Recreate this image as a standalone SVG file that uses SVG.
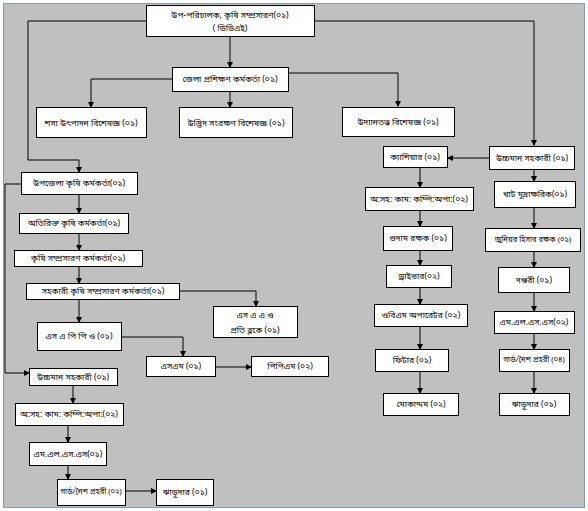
<svg xmlns="http://www.w3.org/2000/svg" width="588" height="511" viewBox="0 0 588 511">
<defs>
<marker id="ar" markerWidth="6" markerHeight="6" refX="5" refY="3" orient="auto" markerUnits="userSpaceOnUse">
<path d="M0,0 L6,3 L0,6 Z" fill="#000"/>
</marker>
<style>
.b{fill:#fff;stroke:#000;stroke-width:1}
.t{font-family:"Noto Sans Bengali","Noto Sans","Noto Sans CJK SC",sans-serif;font-size:8.5px;fill:#000;text-anchor:middle;dominant-baseline:central}
.s{font-size:7.6px}
.c{fill:none;stroke:#000;stroke-width:1}
.ca{fill:none;stroke:#000;stroke-width:1;marker-end:url(#ar)}
</style>
</defs>
<rect x="0" y="0" width="588" height="511" fill="#fff"/>
<rect x="3.5" y="3.5" width="581" height="504" fill="#c0c0c0" stroke="#7f9db9" stroke-width="1"/>
<g id="connectors">
<path class="c" d="M146,21 H28 V160 H79"/>
<path class="ca" d="M79,160 V172"/>
<path class="ca" d="M315,21 H534 V145"/>
<path class="ca" d="M230,36 V67"/>
<path class="ca" d="M172,79 H91 V107"/>
<path class="ca" d="M230,91 V107"/>
<path class="ca" d="M288,73 H398 V106"/>
<path class="ca" d="M489,158 H448"/>
<path class="ca" d="M534,169 V181"/>
<path class="ca" d="M534,207 V228"/>
<path class="ca" d="M534,251 V267"/>
<path class="ca" d="M534,292 V311"/>
<path class="ca" d="M534,333 V349"/>
<path class="ca" d="M534,371 V393"/>
<path class="ca" d="M420,167 V187"/>
<path class="ca" d="M420,210 V226"/>
<path class="ca" d="M420,250 V265"/>
<path class="ca" d="M420,287 V304"/>
<path class="ca" d="M420,326 V349"/>
<path class="ca" d="M420,371 V393"/>
<path class="ca" d="M79,194 V213"/>
<path class="ca" d="M79,233 V250"/>
<path class="ca" d="M79,266 V283"/>
<path class="ca" d="M179,291 H256 V306"/>
<path class="ca" d="M79,299 V322"/>
<path class="ca" d="M121,337 H183 V356"/>
<path class="ca" d="M215,367 H251"/>
<path class="ca" d="M21,184 H5 V373 H29"/>
<path class="ca" d="M73,385 V403"/>
<path class="ca" d="M68,425 V442"/>
<path class="ca" d="M68,465 V479"/>
<path class="ca" d="M125,491 H156"/>
</g>
<g id="n1"><rect class="b" x="146.5" y="5.5" width="168" height="31"/><text class="t" x="230" y="15">উপ-পরিচালক, কৃষি সম্প্রসারণ(০১)</text><text class="t" x="230" y="28">( ডিডিএই)</text></g>
<g id="n2"><rect class="b" x="172.5" y="67.5" width="116" height="24"/><text class="t" x="230" y="79">জেলা প্রশিক্ষণ কর্মকর্তা (০১)</text></g>
<g id="n3"><rect class="b" x="36.5" y="107.5" width="110" height="30"/><text class="t" x="91" y="123">শস্য উৎপাদন বিশেষজ্ঞ (০১)</text></g>
<g id="n4"><rect class="b" x="179.5" y="107.5" width="113" height="30"/><text class="t" x="236" y="123">উদ্ভিদ সংরক্ষণ বিশেষজ্ঞ  (০১)</text></g>
<g id="n5"><rect class="b" x="342.5" y="107.5" width="112" height="29"/><text class="t" x="398" y="122">উদ্যানতত্ত্ব বিশেষজ্ঞ (০১)</text></g>
<g id="n6"><rect class="b" x="489.5" y="146.5" width="85" height="23"/><text class="t" x="532" y="158">উচ্চমান সহকারী  (০১)</text></g>
<g id="n7"><rect class="b" x="383.5" y="146.5" width="64" height="21"/><text class="t" x="415" y="157">ক্যাশিয়ার (০১)</text></g>
<g id="n8"><rect class="b" x="494.5" y="181.5" width="81" height="26"/><text class="t" x="535" y="194">খাট মুদ্রাক্ষরিক(০১)</text></g>
<g id="n9"><rect class="b" x="485.5" y="228.5" width="95" height="23"/><text class="t s" x="533" y="240">জুনিয়র হিসাব রক্ষক (০১)</text></g>
<g id="n10"><rect class="b" x="498.5" y="267.5" width="71" height="25"/><text class="t" x="534" y="280">দপ্তরী (০১)</text></g>
<g id="n11"><rect class="b" x="494.5" y="311.5" width="80" height="22"/><text class="t" x="534" y="322">এম.এল.এস.এস(০২)</text></g>
<g id="n12"><rect class="b" x="499.5" y="349.5" width="70" height="22"/><text class="t s" x="534" y="360">গার্ড/নৈশ প্রহরী (০৪)</text></g>
<g id="n13"><rect class="b" x="499.5" y="393.5" width="70" height="22"/><text class="t" x="534" y="404">ঝাড়ুদার (০১)</text></g>
<g id="n14"><rect class="b" x="365.5" y="187.5" width="108" height="23"/><text class="t" x="419" y="199">অ:সহ: কাম: কম্পি:অপা:(০২)</text></g>
<g id="n15"><rect class="b" x="383.5" y="226.5" width="69" height="24"/><text class="t" x="418" y="238">গুদাম রক্ষক (০১)</text></g>
<g id="n16"><rect class="b" x="386.5" y="265.5" width="65" height="22"/><text class="t" x="419" y="276">ড্রাইভার(০২)</text></g>
<g id="n17"><rect class="b" x="374.5" y="304.5" width="93" height="22"/><text class="t" x="421" y="315">ওবিএম অপারেটর (০২)</text></g>
<g id="n18"><rect class="b" x="375.5" y="349.5" width="73" height="22"/><text class="t" x="412" y="360">ফিটার (০১)</text></g>
<g id="n19"><rect class="b" x="383.5" y="393.5" width="75" height="22"/><text class="t" x="421" y="404">মোকাদ্দম (০২)</text></g>
<g id="n20"><rect class="b" x="21.5" y="172.5" width="116" height="22"/><text class="t" x="79" y="183">উপজেলা কৃষি কর্মকর্তা(০১)</text></g>
<g id="n21"><rect class="b" x="19.5" y="213.5" width="109" height="20"/><text class="t" x="74" y="223">অতিরিক্ত কৃষি কর্মকর্তা(০১)</text></g>
<g id="n22"><rect class="b" x="14.5" y="250.5" width="128" height="16"/><text class="t" x="78" y="258">কৃষি সম্প্রসারণ কর্মকর্তা(০১)</text></g>
<g id="n23"><rect class="b" x="26.5" y="283.5" width="153" height="16"/><text class="t" x="103" y="291">সহকারী কৃষি সম্প্রসারণ কর্মকর্তা(০১)</text></g>
<g id="n24"><rect class="b" x="213.5" y="306.5" width="84" height="31"/><text class="t" x="255" y="315">এস এ এ ও</text><text class="t" x="255" y="330">প্রতি ব্লকে (০১)</text></g>
<g id="n25"><rect class="b" x="37.5" y="322.5" width="84" height="28"/><text class="t" x="79" y="336">এস এ পি পি ও (০১)</text></g>
<g id="n26"><rect class="b" x="146.5" y="356.5" width="69" height="20"/><text class="t" x="181" y="366">এসএম (০১)</text></g>
<g id="n27"><rect class="b" x="251.5" y="356.5" width="77" height="20"/><text class="t" x="290" y="366">পিপিএম (০২)</text></g>
<g id="n28"><rect class="b" x="29.5" y="368.5" width="88" height="17"/><text class="t" x="73" y="377">উচ্চমান সহকারী  (০১)</text></g>
<g id="n29"><rect class="b" x="15.5" y="403.5" width="108" height="22"/><text class="t" x="69" y="414">অ:সহ: কাম: কম্পি:অপা:(০২)</text></g>
<g id="n30"><rect class="b" x="29.5" y="442.5" width="77" height="23"/><text class="t" x="68" y="454">এম.এল.এস.এস(০১)</text></g>
<g id="n31"><rect class="b" x="57.5" y="479.5" width="68" height="26"/><text class="t s" x="91" y="492">গার্ড/নৈশ প্রহরী (০২)</text></g>
<g id="n32"><rect class="b" x="156.5" y="479.5" width="57" height="26"/><text class="t" x="185" y="492">ঝাড়ুদার (০১)</text></g>
</svg>
